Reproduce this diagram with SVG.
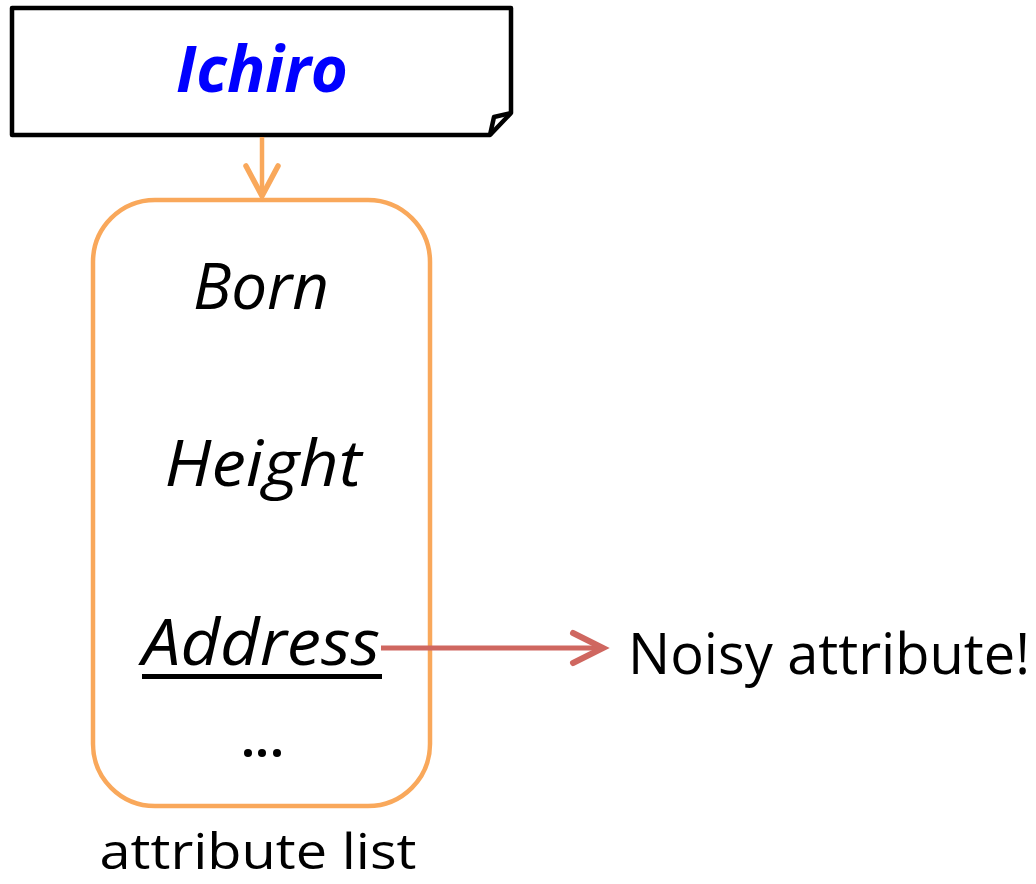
<svg xmlns="http://www.w3.org/2000/svg" width="1036" height="884" viewBox="0 0 1036 884">
  <style>
    .lbl { font-family: "Open Sans", "Noto Sans", "Liberation Sans", sans-serif; fill: #000; }
    .it { font-style: italic; }
    .orange { stroke: #F9A85B; fill: none; stroke-width: 4.5; }
    .red { stroke: #CF6760; fill: none; stroke-width: 5; }
  </style>
  <defs>
    <marker id="headOrange" viewBox="0 0 20 20" refX="18" refY="10" markerWidth="20" markerHeight="20" markerUnits="userSpaceOnUse" orient="auto" overflow="visible">
      <path d="M-12,-6 L18,10 L-12,26" fill="none" stroke="#F9A85B" stroke-width="5.5" stroke-linecap="round" stroke-linejoin="miter"/>
    </marker>
    <marker id="headRed" viewBox="0 0 20 20" refX="18" refY="10" markerWidth="20" markerHeight="20" markerUnits="userSpaceOnUse" orient="auto" overflow="visible">
      <path d="M-12,-5 L18,10 L-12,25" fill="none" stroke="#CF6760" stroke-width="6" stroke-linecap="round" stroke-linejoin="miter"/>
    </marker>
  </defs>

  <rect width="1036" height="884" fill="#fff"/>

  <!-- entity note with folded corner -->
  <g id="node-ichiro">
    <path d="M12,8 L511,8 L511,113 L490,135 L12,135 Z" fill="#fff" stroke="#000" stroke-width="4.5" stroke-linejoin="round"/>
    <path d="M511,113 L494,117 L490,135" fill="none" stroke="#000" stroke-width="4.5" stroke-linejoin="round"/>
    <text class="lbl" x="262" y="92" text-anchor="middle" font-size="64" font-weight="bold" font-style="italic" style="fill:#0000FF" textLength="172" lengthAdjust="spacingAndGlyphs">Ichiro</text>
  </g>

  <!-- attribute list container -->
  <g id="node-attributes">
    <rect class="orange" x="93" y="200" width="337" height="606" rx="62" ry="62"/>
    <text class="lbl it" x="261" y="309" text-anchor="middle" font-size="64" textLength="136" lengthAdjust="spacingAndGlyphs">Born</text>
    <text class="lbl it" x="263" y="486" text-anchor="middle" font-size="64" textLength="197" lengthAdjust="spacingAndGlyphs">Height</text>
    <text class="lbl it" x="261" y="665" text-anchor="middle" font-size="64" textLength="238" lengthAdjust="spacingAndGlyphs">Address</text>
    <rect x="142" y="674" width="240" height="5" fill="#000"/>
    <circle cx="248" cy="753" r="4" fill="#000"/>
    <circle cx="262" cy="753" r="4" fill="#000"/>
    <circle cx="277" cy="753" r="4" fill="#000"/>
  </g>

  <g id="node-caption">
    <text class="lbl" x="258" y="869" text-anchor="middle" font-size="50" textLength="317" lengthAdjust="spacingAndGlyphs">attribute list</text>
  </g>

  <g id="node-noisy">
    <text class="lbl" x="628" y="674" font-size="56" textLength="402" lengthAdjust="spacingAndGlyphs">Noisy attribute!</text>
  </g>

  <!-- connectors -->
  <g id="connectors">
    <line class="orange" x1="262" y1="137" x2="262" y2="196" stroke-width="5.5" marker-end="url(#headOrange)"/>
    <line class="red" x1="381" y1="648" x2="603" y2="648" marker-end="url(#headRed)"/>
  </g>
</svg>
